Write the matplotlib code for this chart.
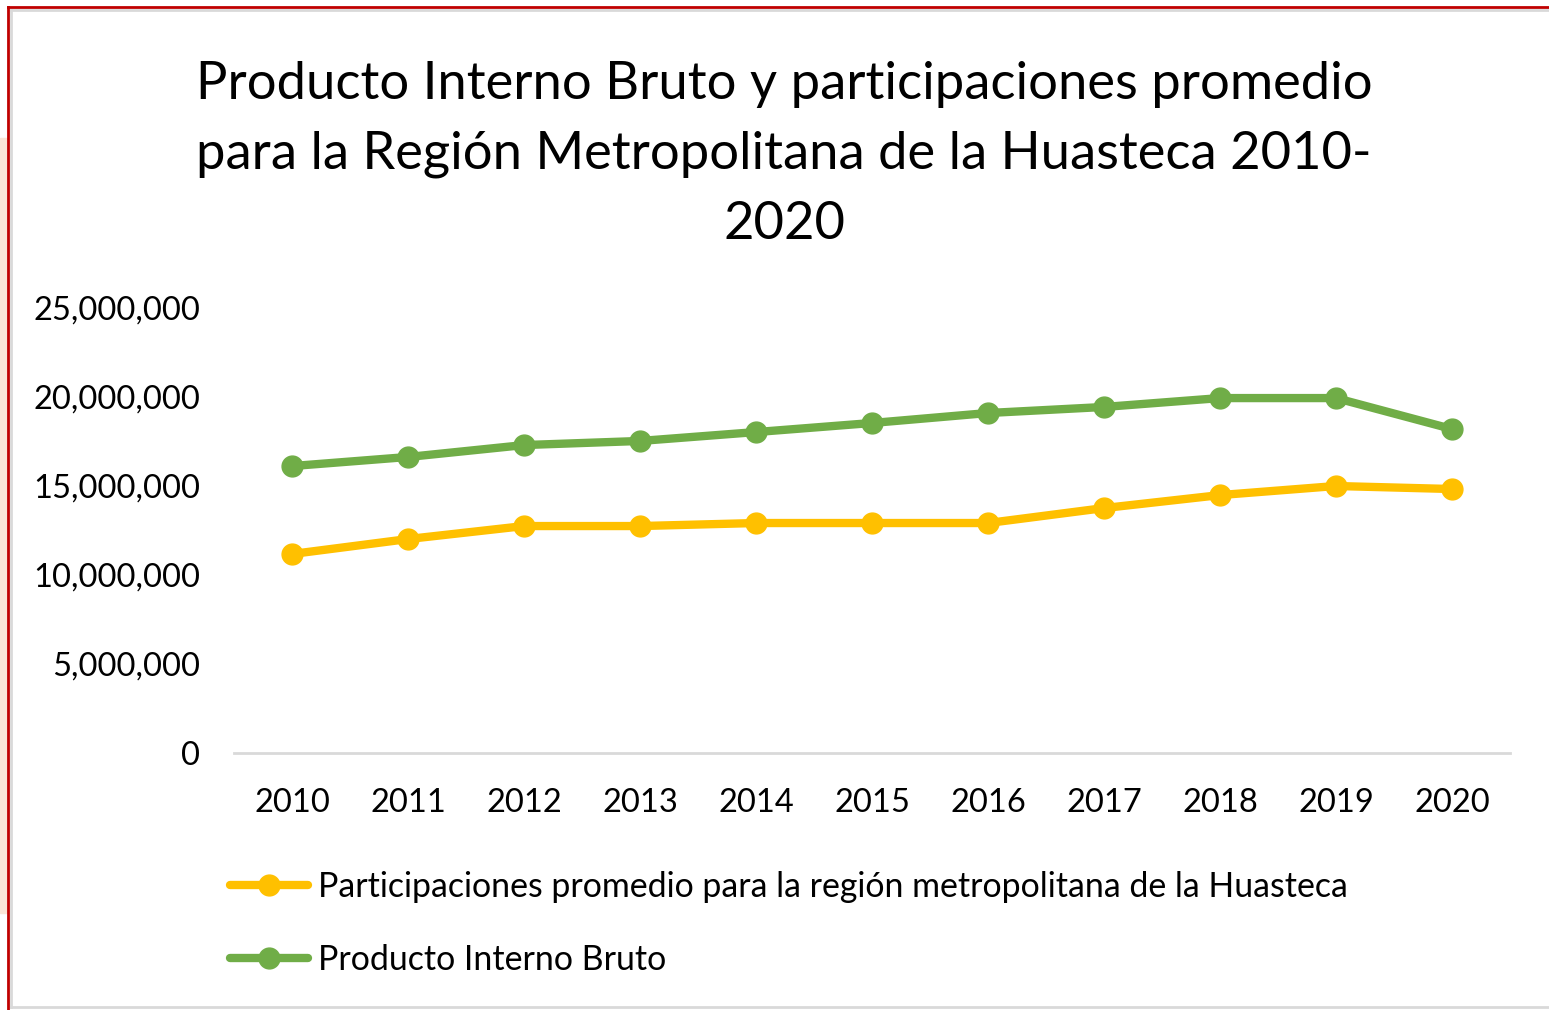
import matplotlib.pyplot as plt
from matplotlib.lines import Line2D
from matplotlib.patches import Rectangle
from matplotlib.ticker import FuncFormatter

plt.rcParams['font.family'] = ['Lato', 'DejaVu Sans']

anios = ['2010', '2011', '2012', '2013', '2014', '2015',
         '2016', '2017', '2018', '2019', '2020']
participaciones = [11180000, 12020000, 12750000, 12750000, 12920000, 12920000,
                   12920000, 13760000, 14490000, 15000000, 14830000]
pib = [16120000, 16630000, 17300000, 17530000, 18030000, 18540000,
       19100000, 19440000, 19940000, 19940000, 18200000]

amarillo = '#ffc000'
verde = '#70ad47'

fig = plt.figure(figsize=(15.49, 10.10), dpi=100)

# marco exterior: franja rosada, borde rojo y borde gris del grafico
fig.patches.append(Rectangle((0, 1 - 913 / 1010), 7 / 1549, (913 - 138) / 1010,
                             transform=fig.transFigure, color='#fbe5d6', zorder=0))
fig.lines.append(Line2D([8 / 1549, 8 / 1549], [0, 1 - 7 / 1010],
                        transform=fig.transFigure, color='#c00000', lw=2))
fig.lines.append(Line2D([8 / 1549, 1], [1 - 7 / 1010, 1 - 7 / 1010],
                        transform=fig.transFigure, color='#c00000', lw=2))
fig.lines.append(Line2D([11 / 1549, 11 / 1549], [1 - 1007 / 1010, 1 - 10 / 1010],
                        transform=fig.transFigure, color='#d9d9d9', lw=2))
fig.lines.append(Line2D([11 / 1549, 1], [1 - 10 / 1010, 1 - 10 / 1010],
                        transform=fig.transFigure, color='#d9d9d9', lw=2))
fig.lines.append(Line2D([11 / 1549, 1], [1 - 1007 / 1010, 1 - 1007 / 1010],
                        transform=fig.transFigure, color='#d9d9d9', lw=2))

ax = fig.add_axes([234 / 1549, 1 - 753 / 1010, 1276 / 1549, 445 / 1010])
x = range(len(anios))
ax.plot(x, participaciones, color=amarillo, lw=6, marker='o', markersize=15,
        solid_capstyle='round',
        label='Participaciones promedio para la región metropolitana de la Huasteca')
ax.plot(x, pib, color=verde, lw=6, marker='o', markersize=15,
        solid_capstyle='round', label='Producto Interno Bruto')

ax.set_xlim(-0.5, len(anios) - 0.5)
ax.set_ylim(0, 25000000)
ax.set_yticks(range(0, 25000001, 5000000))
ax.yaxis.set_major_formatter(FuncFormatter(lambda v, p: f'{int(v):,}'))
ax.set_xticks(list(x))
ax.set_xticklabels(anios)
ax.tick_params(axis='both', length=0, labelsize=23.5)
ax.tick_params(axis='x', pad=25)
ax.tick_params(axis='y', pad=24.5)
for lado in ['top', 'right', 'left']:
    ax.spines[lado].set_visible(False)
ax.spines['bottom'].set_color('#d9d9d9')
ax.spines['bottom'].set_linewidth(2)

fig.text(784 / 1549, 1 - 61 / 1010,
         'Producto Interno Bruto y participaciones promedio\n'
         'para la Región Metropolitana de la Huasteca 2010-\n2020',
         ha='center', va='top', fontsize=37.8, linespacing=1.6)

fig.legend(loc='upper left', bbox_to_anchor=(199.5 / 1549, 1 - 840.5 / 1010),
           frameon=False, fontsize=24.4, handlelength=2.3, handletextpad=0.3,
           labelspacing=1.2)

fig.savefig('out.png', dpi=100)
